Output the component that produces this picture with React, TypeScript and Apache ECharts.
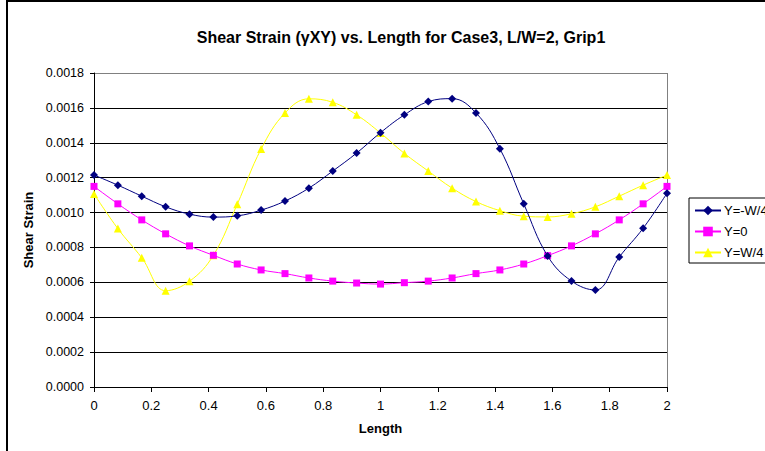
import React, { useEffect, useRef } from "react";
import * as echarts from "echarts";

const lengths = [0, 0.0833, 0.1667, 0.25, 0.3333, 0.4167, 0.5, 0.5833, 0.6667, 0.75, 0.8333, 0.9167, 1, 1.0833, 1.1667, 1.25, 1.3333, 1.4167, 1.5, 1.5833, 1.6667, 1.75, 1.8333, 1.9167, 2];
const yNegW4 = [0.001215, 0.001157, 0.001094, 0.001033, 0.000991, 0.000974, 0.000981, 0.001014, 0.001066, 0.00114, 0.001238, 0.001341, 0.001458, 0.00156, 0.001636, 0.001653, 0.001571, 0.001366, 0.00105, 0.000751, 0.000607, 0.000556, 0.000745, 0.00091, 0.001111];
const yZero = [0.00115, 0.00105, 0.000958, 0.000878, 0.000809, 0.000755, 0.000705, 0.000671, 0.00065, 0.000625, 0.000607, 0.000596, 0.00059, 0.000598, 0.000607, 0.000625, 0.00065, 0.000671, 0.000705, 0.000753, 0.000809, 0.000878, 0.000958, 0.00105, 0.00115];
const yPosW4 = [0.001107, 0.000908, 0.000741, 0.000552, 0.000606, 0.000755, 0.001048, 0.001364, 0.001571, 0.001652, 0.001632, 0.00156, 0.001456, 0.001339, 0.001238, 0.00114, 0.001063, 0.001011, 0.000979, 0.000975, 0.000993, 0.001033, 0.001094, 0.001157, 0.001215];
const seriesNames = ["Y=-W/4", "Y=0", "Y=W/4"];
const titleText = "Shear Strain (\u03b3XY) vs. Length for Case3, L/W=2, Grip1";

const FONT = "'Liberation Sans', Arial, sans-serif";

export default function App() {
  const ref = useRef<HTMLDivElement>(null);
  useEffect(() => {
    if (!ref.current) return;
    const chart = echarts.init(ref.current, null, { renderer: "svg" });
    const pair = (ys: number[]) => lengths.map((x, i) => [x, ys[i]]);
    const ySplitColors = ["#000", "#000", "#000", "#000", "#000", "#000", "#000", "#000", "#000", "#808080"];
    const xSplitColors = ["transparent", "transparent", "transparent", "transparent", "transparent", "transparent", "transparent", "transparent", "transparent", "transparent", "#808080"];
    chart.setOption({
      animation: false,
      backgroundColor: "#fff",
      textStyle: { fontFamily: FONT },
      title: {
        text: titleText,
        left: 396,
        top: 24,
        textAlign: "center",
        textStyle: { fontFamily: FONT, fontSize: 16, fontWeight: "bold", color: "#000" },
      },
      graphic: [
        {
          type: "rect",
          shape: { x: 7, y: 1, width: 900, height: 600 },
          style: { fill: "none", stroke: "#000", lineWidth: 2 },
          silent: true,
        },
      ],
      grid: { left: 94, top: 73, right: 98, bottom: 64, containLabel: false },
      legend: {
        orient: "vertical",
        left: 689,
        top: 198,
        padding: [6, 100, 4, 5],
        itemGap: 8,
        itemWidth: 26,
        itemHeight: 12,
        borderColor: "#000",
        borderWidth: 1,
        backgroundColor: "#fff",
        data: seriesNames,
        textStyle: { fontFamily: FONT, fontSize: 13, color: "#000", padding: [0, 0, 0, -2] },
      },
      xAxis: {
        type: "value",
        min: 0,
        max: 2,
        interval: 0.2,
        name: "Length",
        nameLocation: "middle",
        nameGap: 35,
        nameTextStyle: { fontFamily: FONT, fontSize: 13, fontWeight: "bold", color: "#000" },
        axisLine: { lineStyle: { color: "#000", width: 1 } },
        axisTick: { show: true, inside: false, length: 5, lineStyle: { color: "#000" } },
        axisLabel: { color: "#000", fontSize: 13, fontFamily: FONT, margin: 12 },
        splitLine: { show: true, lineStyle: { color: xSplitColors, width: 1 } },
      },
      yAxis: {
        type: "value",
        min: 0,
        max: 0.0018,
        interval: 0.0002,
        name: "Shear Strain",
        nameLocation: "middle",
        nameGap: 56,
        nameTextStyle: { fontFamily: FONT, fontSize: 13, fontWeight: "bold", color: "#000" },
        axisLine: { show: true, lineStyle: { color: "#000", width: 1 } },
        axisTick: { show: true, inside: false, length: 4, lineStyle: { color: "#000" } },
        axisLabel: {
          color: "#000",
          fontSize: 12.5,
          fontFamily: FONT,
          margin: 10,
          formatter: (v: number) => v.toFixed(4),
        },
        splitLine: { show: true, lineStyle: { color: ySplitColors, width: 1 } },
      },
      series: [
        {
          name: seriesNames[0],
          type: "line",
          data: pair(yNegW4),
          smooth: 0.4,
          symbol: "diamond",
          symbolSize: 8,
          itemStyle: { color: "#000080" },
          lineStyle: { color: "#000080", width: 1 },
          z: 4,
        },
        {
          name: seriesNames[1],
          type: "line",
          data: pair(yZero),
          smooth: 0.4,
          symbol: "rect",
          symbolSize: 7,
          itemStyle: { color: "#FF00FF" },
          lineStyle: { color: "#FF00FF", width: 1 },
          z: 3,
        },
        {
          name: seriesNames[2],
          type: "line",
          data: pair(yPosW4),
          smooth: 0.4,
          symbol: "triangle",
          symbolSize: 8,
          itemStyle: { color: "#FFFF00" },
          lineStyle: { color: "#FFFF00", width: 1 },
          z: 2,
        },
      ],
    });
    return () => chart.dispose();
  }, []);
  return (
    <div
      ref={ref}
      style={{ position: "fixed", left: 0, top: 0, width: 765, height: 451, background: "#fff" }}
    />
  );
}
